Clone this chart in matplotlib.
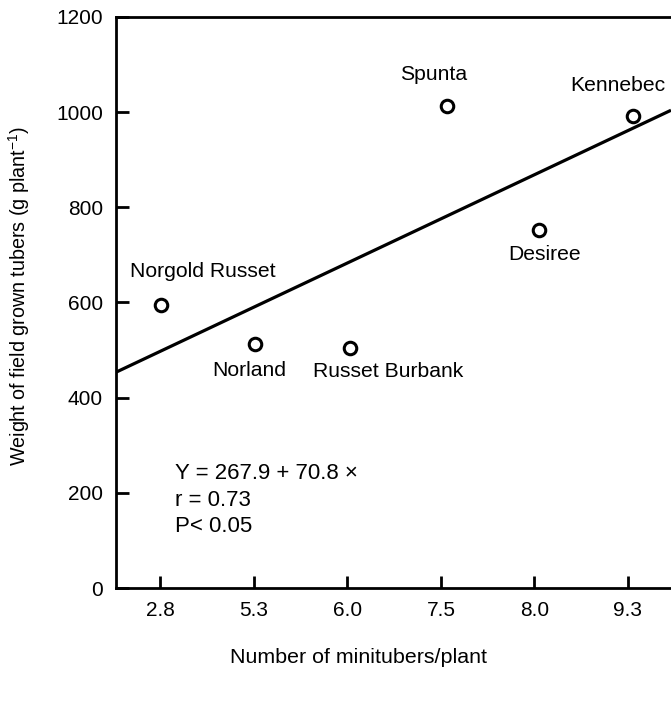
import matplotlib
matplotlib.use("Agg")
import matplotlib.pyplot as plt
import numpy as np

# ---- data --------------------------------------------------------------
tick_labels = ["2.8", "5.3", "6.0", "7.5", "8.0", "9.3"]
cultivars = ["Norgold Russet", "Norland", "Russet Burbank", "Spunta", "Desiree", "Kennebec"]
point_x = [0.01, 1.01, 2.03, 3.07, 4.05, 5.05]   # plotted on equally spaced category slots
weight = [595, 512, 505, 1014, 753, 991]
# fitted line as drawn (category-slot space): ends at the axis edges
fit_x = [-0.48, 5.46]
fit_y = [453, 1004]
stats_lines = ["Y = 267.9 + 70.8 \u00d7", "r = 0.73", "P< 0.05"]

# label offsets (points) from each marker
label_offsets = {
    "Norgold Russet": (30, 24),
    "Norland": (-4, -19),
    "Russet Burbank": (27, -17),
    "Spunta": (-10, 22),
    "Desiree": (4, -18),
    "Kennebec": (-11, 22),
}

plt.rcParams.update({
    "font.family": ["Liberation Sans", "DejaVu Sans"],
    "font.size": 15,
    "mathtext.fontset": "custom",
    "mathtext.rm": "Liberation Sans",
    "mathtext.it": "Liberation Sans:italic",
})

fig = plt.figure(figsize=(6.71, 7.10), dpi=100)
ax = fig.add_axes([115.5 / 671, 1 - 588 / 710, 1 - 115.5 / 671, (588 - 17) / 710])

ax.plot(fit_x, fit_y, color="black", linewidth=2.3, solid_capstyle="butt")
ax.plot(point_x, weight, linestyle="none", marker="o", markersize=9,
        markerfacecolor="white", markeredgecolor="black", markeredgewidth=2.2, zorder=3)

for name, x, y in zip(cultivars, point_x, weight):
    ax.annotate(name, (x, y), xytext=label_offsets[name], textcoords="offset points",
                ha="center", va="center", fontsize=15.2)

ax.text(0.108, 0.154, "\n".join(stats_lines), transform=ax.transAxes,
        ha="left", va="center", fontsize=16, linespacing=1.36)

ax.set_xlim(fit_x[0], fit_x[1])
ax.set_ylim(0, 1200)
ax.set_xticks(range(len(tick_labels)))
ax.set_xticklabels(tick_labels)
ax.set_yticks(np.arange(0, 1201, 200))

ax.tick_params(direction="in", length=9, width=2, pad=9, labelsize=15)
for side in ("left", "bottom", "top"):
    ax.spines[side].set_linewidth(2)
ax.spines["right"].set_visible(False)

ax.set_xlabel("Number of minitubers/plant", fontsize=15.4, va="center")
ax.xaxis.set_label_coords(0.438, -0.121)
ax.set_ylabel(r"Weight of field grown tubers (g plant$^{-1}$)", fontsize=14.2,
              va="center", ha="center")
ax.yaxis.set_label_coords(-0.1737, 0.511)

fig.savefig("out.png", dpi=100)
